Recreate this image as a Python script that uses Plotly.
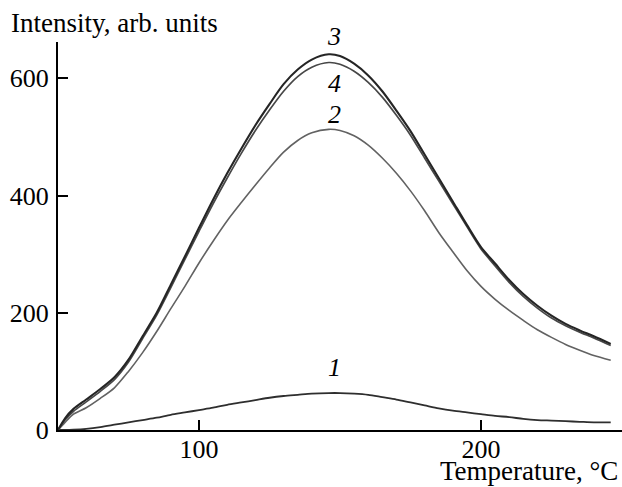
import plotly.graph_objects as go

# Temperature grid (°C)
temperature = [50, 52.5, 55.5, 60, 65, 70, 75, 80, 85, 90, 95, 100, 105, 110, 115, 120, 125,
               130, 135, 140, 146, 150, 155, 160, 165, 170, 175, 180, 185, 190, 195, 200,
               205, 210, 215, 220, 225, 230, 235, 240, 246]

# Intensity curves (arb. units)
curve_1 = [0, 0, 0.5, 2, 5, 9, 13, 17, 21, 26, 30, 34, 38, 43, 47, 51, 55,
           58, 60, 62, 63, 63, 62, 60, 56, 52, 47, 42, 37, 33, 30, 27,
           24, 22, 19, 17, 16, 15, 14, 13, 13]
curve_2 = [0, 13, 27, 38, 54, 72, 100, 132, 168, 207, 245, 285, 322, 357, 388, 418, 447,
           474, 494, 507, 513, 511, 502, 486, 464, 438, 408, 374, 337, 304, 272, 245,
           223, 204, 187, 171, 158, 146, 136, 127, 119]
curve_3 = [0, 20, 36, 52, 70, 90, 120, 160, 200, 248, 296, 345, 393, 438, 480, 520, 556,
           590, 615, 632, 641, 638, 625, 605, 578, 545, 510, 470, 430, 390, 350, 312,
           284, 256, 232, 212, 195, 181, 170, 160, 147]
curve_4 = [0, 17, 32, 48, 66, 86, 116, 156, 196, 243, 291, 339, 386, 430, 472, 511, 546,
           578, 603, 619, 627, 624, 612, 593, 568, 537, 503, 464, 425, 386, 347, 309,
           280, 252, 228, 208, 191, 178, 167, 157, 144]

curve_labels = ["1", "2", "3", "4"]
label_x = [148, 148, 148, 148]
label_y = [106, 539, 671, 592]

x_ticks = [100, 200]
y_ticks = [0, 200, 400, 600]

X_RANGE = [50, 250]
Y_RANGE = [0, 662]
FONT = "Liberation Serif"

fig = go.Figure()
styles = [
    (curve_1, "#2e2e2e", 1.8),
    (curve_2, "#626262", 1.6),
    (curve_4, "#474747", 1.7),
    (curve_3, "#252525", 2.1),
]
for values, color, width in styles:
    fig.add_trace(go.Scatter(
        x=temperature, y=values, mode="lines",
        line=dict(color=color, width=width, shape="spline", smoothing=0.8),
        showlegend=False, hoverinfo="skip",
    ))

# curve numbers; the topmost sits above the plotting area, so place by paper fraction
for text, lx, ly in zip(curve_labels, label_x, label_y):
    fig.add_annotation(x=lx, y=ly / Y_RANGE[1], yref="paper", text=f"<i>{text}</i>",
                       showarrow=False, xanchor="center", yanchor="middle",
                       font=dict(family=FONT, size=26, color="black"))

fig.add_annotation(xref="paper", yref="paper", x=-49 / 564, y=(430 - 23) / 388,
                   text="Intensity, arb. units", showarrow=False,
                   xanchor="left", yanchor="middle",
                   font=dict(family=FONT, size=27, color="black"))
fig.add_annotation(xref="paper", yref="paper", x=(619 - 58) / 564, y=(430 - 487) / 388,
                   text="Temperature, °C", showarrow=False,
                   xanchor="right", yanchor="bottom", borderpad=0,
                   font=dict(family=FONT, size=27, color="black"))

axis_common = dict(
    showline=True, linecolor="black", linewidth=2, mirror=False,
    showgrid=False, zeroline=False,
    ticks="inside", ticklen=10, tickwidth=2, tickcolor="black",
    tickfont=dict(family=FONT, size=26, color="black"),
)
fig.update_xaxes(range=X_RANGE, tickvals=x_ticks, ticklabelstandoff=-5, **axis_common)
fig.update_yaxes(range=Y_RANGE, tickvals=y_ticks, ticklabelstandoff=2, **axis_common)

fig.update_layout(
    width=622, height=487,
    margin=dict(l=58, r=0, t=42, b=57),
    paper_bgcolor="white", plot_bgcolor="white",
)

fig.write_html("out.html")
